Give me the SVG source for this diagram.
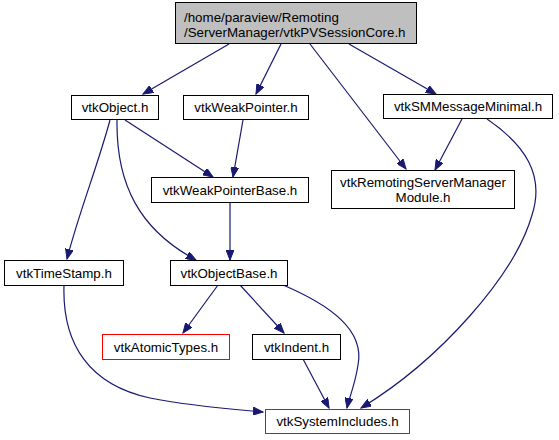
<svg xmlns="http://www.w3.org/2000/svg" width="559" height="440" viewBox="0 0 559 440">
<style>
.n rect{fill:#ffffff;stroke:#000000;stroke-width:1}
.n.root rect{fill:#bfbfbf}
.n.red rect{stroke:#ff0000}
.n text{font-family:"Liberation Sans",Arial,Helvetica,sans-serif;font-size:13.33px;fill:#000000;text-anchor:middle}
.n.root text{text-anchor:start}
#edges path{fill:none;stroke:#191970;stroke-width:1.2}
</style>
<defs>
<marker id="ah" markerUnits="userSpaceOnUse" markerWidth="11" markerHeight="8" refX="10" refY="4" orient="auto" viewBox="0 0 11 8">
<path d="M0,0 L10,4 L0,8 z" fill="#191970" stroke="#191970" stroke-width="1"/>
</marker>
</defs>
<rect width="559" height="440" fill="#ffffff"/>
<g id="edges">
<path marker-end="url(#ah)" d="M229,44 L143,94"/>
<path marker-end="url(#ah)" d="M281,44 L256,94"/>
<path marker-end="url(#ah)" d="M310,44 L406,169"/>
<path marker-end="url(#ah)" d="M349,44 L436,94"/>
<path marker-end="url(#ah)" d="M125,120 L213,177"/>
<path marker-end="url(#ah)" d="M243,120 L233,177"/>
<path marker-end="url(#ah)" d="M110,120 C98,165 78,215 67,259"/>
<path marker-end="url(#ah)" d="M117,120 C116,185 140,230 196,260"/>
<path marker-end="url(#ah)" d="M230,203 L230,260"/>
<path marker-end="url(#ah)" d="M462,119 L435,170"/>
<path marker-end="url(#ah)" d="M487,119 C525,145 545,175 532,215 C515,275 440,360 361,408"/>
<path marker-end="url(#ah)" d="M64,285 C62,345 90,385 150,398 C190,406 230,409 263,412"/>
<path marker-end="url(#ah)" d="M218,285 L183,333"/>
<path marker-end="url(#ah)" d="M240,285 L284,333"/>
<path marker-end="url(#ah)" d="M283,285 C330,305 365,330 358,365 C355,385 349,398 347,408"/>
<path marker-end="url(#ah)" d="M303,359 L329,408"/>
</g>
<g id="node-root" class="n root">
<rect x="175.5" y="2.5" width="241" height="41"/>
<text x="184" y="21.5">/home/paraview/Remoting</text>
<text x="184" y="36.5">/ServerManager/vtkPVSessionCore.h</text>
</g>
<g id="node-vtkObject" class="n">
<rect x="71.5" y="95.5" width="87" height="24"/>
<text x="115" y="112">vtkObject.h</text>
</g>
<g id="node-vtkWeakPointer" class="n">
<rect x="183.5" y="95.5" width="125" height="24"/>
<text x="246" y="112">vtkWeakPointer.h</text>
</g>
<g id="node-vtkSMMessageMinimal" class="n">
<rect x="383.5" y="94.5" width="169" height="24"/>
<text x="468" y="111">vtkSMMessageMinimal.h</text>
</g>
<g id="node-vtkWeakPointerBase" class="n">
<rect x="151.5" y="177.5" width="157" height="25"/>
<text x="230" y="195">vtkWeakPointerBase.h</text>
</g>
<g id="node-vtkRemotingServerManagerModule" class="n">
<rect x="331.5" y="170.5" width="183" height="38"/>
<text x="423" y="187">vtkRemotingServerManager</text>
<text x="423" y="202">Module.h</text>
</g>
<g id="node-vtkTimeStamp" class="n">
<rect x="4.5" y="260.5" width="119" height="25"/>
<text x="64" y="278">vtkTimeStamp.h</text>
</g>
<g id="node-vtkObjectBase" class="n">
<rect x="170.5" y="260.5" width="117" height="25"/>
<text x="229" y="278">vtkObjectBase.h</text>
</g>
<g id="node-vtkAtomicTypes" class="n red">
<rect x="102.5" y="334.5" width="127" height="25"/>
<text x="166" y="352">vtkAtomicTypes.h</text>
</g>
<g id="node-vtkIndent" class="n">
<rect x="252.5" y="334.5" width="88" height="25"/>
<text x="296.5" y="352">vtkIndent.h</text>
</g>
<g id="node-vtkSystemIncludes" class="n red">
<rect x="265.5" y="409.5" width="144" height="24"/>
<text x="337.5" y="426">vtkSystemIncludes.h</text>
</g>
</svg>
